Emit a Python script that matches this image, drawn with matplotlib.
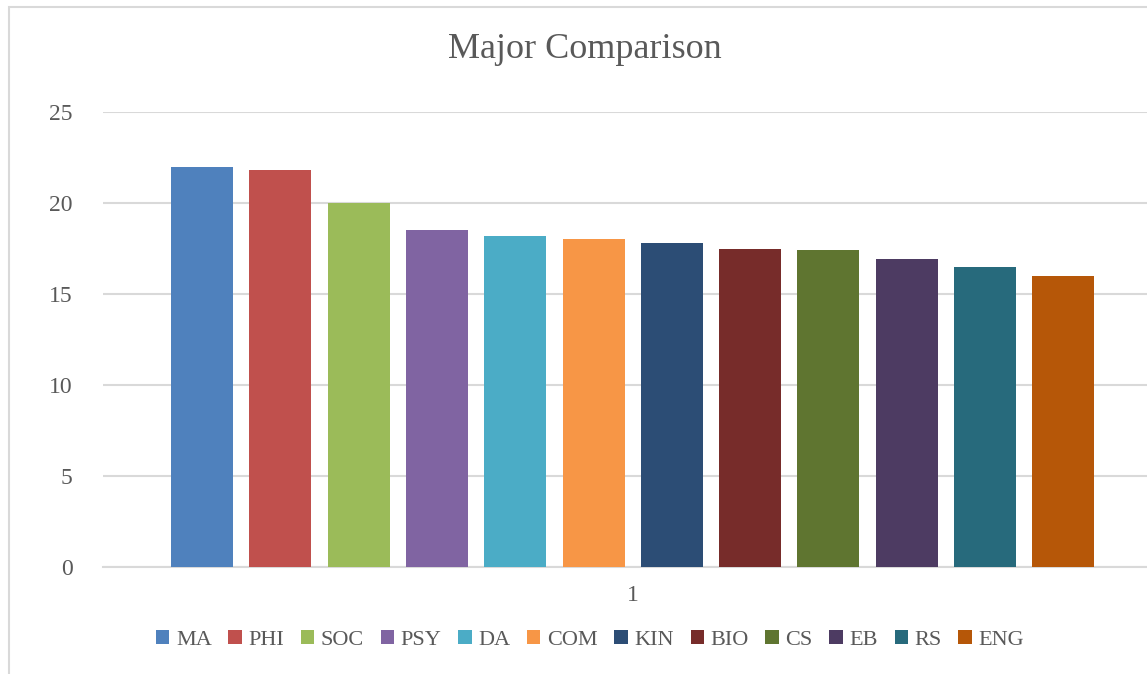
import matplotlib.pyplot as plt
from matplotlib.patches import Rectangle

majors = ['MA', 'PHI', 'SOC', 'PSY', 'DA', 'COM', 'KIN', 'BIO', 'CS', 'EB', 'RS', 'ENG']
values = [22, 21.8, 20, 18.5, 18.2, 18, 17.8, 17.5, 17.4, 16.9, 16.5, 16]
colors = ['#4f81bd', '#c0504d', '#9bbb59', '#8064a2', '#4bacc6', '#f79646',
          '#2c4d75', '#772c2a', '#5f7530', '#4d3b62', '#276a7c', '#b65708']
yticks = [0, 5, 10, 15, 20, 25]
category = '1'

plt.rcParams['font.family'] = ['Liberation Serif', 'DejaVu Serif']
txt = '#595959'

fig = plt.figure(figsize=(11.47, 6.74), dpi=100)
W, H = 1147, 674

# chart frame
fig.patches.append(Rectangle((9 / W, -0.1), 1.2, (674 - 7) / H + 0.1, transform=fig.transFigure,
                             fill=False, edgecolor='#d9d9d9', lw=1.5))

ax = fig.add_axes([103 / W, (H - 567) / H, (W - 103) / W, (567 - 112) / H])

step = 78.3
x0 = 202
for i, (m, v, c) in enumerate(zip(majors, values, colors)):
    ax.bar(i, v, width=62 / step, color=c, label=m, zorder=3)

ax.set_xlim((103 - x0) / step, (W - x0) / step)
ax.set_ylim(0, 25)
ax.set_yticks(yticks)
ax.set_xticks([5.5])
ax.set_xticklabels([category])
ax.grid(axis='y', color='#d9d9d9', lw=1.5, zorder=0)
for s in ['top', 'right', 'left']:
    ax.spines[s].set_visible(False)
ax.spines['bottom'].set_color('#d9d9d9')
ax.spines['bottom'].set_linewidth(1.5)
ax.tick_params(axis='both', length=0, labelsize=17, colors=txt)
ax.tick_params(axis='y', pad=22)
ax.tick_params(axis='x', pad=13)

fig.text(585 / W, 1 - 50 / H, 'Major Comparison', ha='center', va='center', fontsize=26, color=txt)

fig.legend(loc='center', bbox_to_anchor=(590 / W, 1 - 640 / H), ncol=12, frameon=False,
           fontsize=16, labelcolor=txt, handlelength=0.6, handleheight=0.6,
           handletextpad=0.3, columnspacing=0.75)

plt.savefig('out.png', dpi=100)
